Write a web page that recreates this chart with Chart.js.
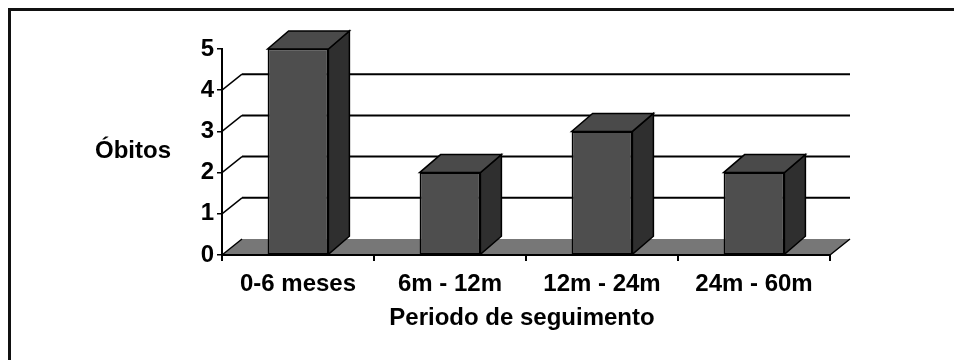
<!DOCTYPE html>
<html>
<head>
<meta charset="utf-8">
<script src="https://cdn.jsdelivr.net/npm/chart.js@4/dist/chart.umd.min.js"></script>
<style>
  html, body { margin: 0; padding: 0; background: #ffffff; }
  #wrap { position: relative; width: 954px; height: 360px; }
</style>
</head>
<body>
<div id="wrap"><canvas id="chart"></canvas></div>
<script>
// Deaths per follow-up period
const categories = ['0-6 meses', '6m - 12m', '12m - 24m', '24m - 60m'];
const obitos = [5, 2, 3, 2];
const yAxisTitle = 'Óbitos';
const xAxisTitle = 'Periodo de seguimento';
const yMin = 0;
const yMax = 5;
const yStep = 1;

const FONT = '"Liberation Sans", Arial, sans-serif';
// depth offsets of the pseudo-3D box (walls/floor) and of the bars
const WALL = { dx: 20, dy: -16 };
const BAR = { dx: 21, dy: -18 };
const COLORS = {
  front: '#4e4e4e',
  top: '#4a4a4a',
  side: '#2f2f2f',
  floor: '#777777',
  line: '#000000'
};

function poly(ctx, pts, fill, stroke, lw) {
  ctx.beginPath();
  ctx.moveTo(pts[0][0], pts[0][1]);
  for (let i = 1; i < pts.length; i++) ctx.lineTo(pts[i][0], pts[i][1]);
  ctx.closePath();
  if (fill) { ctx.fillStyle = fill; ctx.fill(); }
  if (stroke) { ctx.strokeStyle = stroke; ctx.lineWidth = lw; ctx.lineJoin = 'miter'; ctx.stroke(); }
}

const depthPlugin = {
  id: 'depth3d',
  beforeDraw(chart) {
    const { ctx, chartArea: a, scales: { y } } = chart;
    ctx.save();

    // outer frame (top and left edges)
    ctx.strokeStyle = '#111111';
    ctx.lineWidth = 3;
    ctx.beginPath();
    ctx.moveTo(9.5, chart.height + 2);
    ctx.lineTo(9.5, 9.5);
    ctx.lineTo(chart.width + 2, 9.5);
    ctx.stroke();

    // floor
    const y0 = y.getPixelForValue(yMin);
    poly(ctx, [
      [a.left, y0], [a.right, y0],
      [a.right + WALL.dx, y0 + WALL.dy], [a.left + WALL.dx, y0 + WALL.dy]
    ], COLORS.floor, null, 0);
    ctx.strokeStyle = COLORS.line;
    ctx.lineWidth = 1.5;
    ctx.beginPath();
    ctx.moveTo(a.left, y0); ctx.lineTo(a.left + WALL.dx, y0 + WALL.dy);
    ctx.moveTo(a.right, y0); ctx.lineTo(a.right + WALL.dx, y0 + WALL.dy);
    ctx.stroke();

    // back-wall gridlines with their slanted side-wall links
    y.ticks.forEach(t => {
      if (t.value <= yMin || t.value >= yMax) return;
      const py = y.getPixelForValue(t.value);
      ctx.lineWidth = 1.5;
      ctx.beginPath();
      ctx.moveTo(a.left, py);
      ctx.lineTo(a.left + WALL.dx, py + WALL.dy);
      ctx.stroke();
      ctx.lineWidth = 2;
      ctx.beginPath();
      ctx.moveTo(a.left + WALL.dx, py + WALL.dy);
      ctx.lineTo(a.right + WALL.dx, py + WALL.dy);
      ctx.stroke();
    });

    // axis titles
    ctx.fillStyle = '#000000';
    ctx.font = 'bold 24px ' + FONT;
    ctx.textAlign = 'center';
    ctx.textBaseline = 'alphabetic';
    ctx.fillText(yAxisTitle, 133, 158);
    ctx.fillText(xAxisTitle, 522, 325);
    ctx.restore();
  },
  afterDatasetsDraw(chart) {
    const { ctx } = chart;
    const meta = chart.getDatasetMeta(0);
    ctx.save();
    meta.data.forEach(bar => {
      const p = bar.getProps(['x', 'y', 'base', 'width'], true);
      const l = p.x - p.width / 2;
      const r = p.x + p.width / 2;
      const top = p.y;
      const base = p.base;
      // side face
      poly(ctx, [
        [r, top], [r + BAR.dx, top + BAR.dy],
        [r + BAR.dx, base + BAR.dy], [r, base]
      ], COLORS.side, COLORS.line, 1.5);
      // top face
      poly(ctx, [
        [l, top], [r, top],
        [r + BAR.dx, top + BAR.dy], [l + BAR.dx, top + BAR.dy]
      ], COLORS.top, COLORS.line, 1.5);
    });
    ctx.restore();
  }
};

new Chart(document.getElementById('chart'), {
  type: 'bar',
  data: {
    labels: categories,
    datasets: [{
      label: yAxisTitle,
      data: obitos,
      backgroundColor: COLORS.front,
      borderColor: COLORS.line,
      borderWidth: 1.5,
      borderSkipped: false,
      categoryPercentage: 1.0,
      barPercentage: 0.4
    }]
  },
  options: {
    responsive: true,
    maintainAspectRatio: false,
    animation: false,
    devicePixelRatio: 1,
    layout: { padding: { top: 49, right: 124, left: 0, bottom: 0 } },
    plugins: {
      legend: { display: false },
      tooltip: { enabled: false },
      title: { display: false }
    },
    scales: {
      x: {
        type: 'category',
        afterFit(s) { s.height = 105; },
        grid: {
          offset: true,
          drawOnChartArea: false,
          drawTicks: true,
          tickLength: 6,
          color: '#000000',
          lineWidth: 2
        },
        border: { display: true, color: '#000000', width: 2 },
        ticks: {
          color: '#000000',
          font: { family: FONT, size: 24, weight: 'bold' },
          padding: 9,
          maxRotation: 0,
          autoSkip: false
        }
      },
      y: {
        min: yMin,
        max: yMax,
        afterFit(s) { s.width = 222; },
        grid: {
          drawOnChartArea: false,
          drawTicks: true,
          tickLength: 5,
          color: '#000000',
          lineWidth: 1.5
        },
        border: { display: true, color: '#000000', width: 2 },
        ticks: {
          stepSize: yStep,
          color: '#000000',
          font: { family: FONT, size: 24, weight: 'bold' },
          padding: 3
        }
      }
    }
  },
  plugins: [depthPlugin]
});
</script>
</body>
</html>
